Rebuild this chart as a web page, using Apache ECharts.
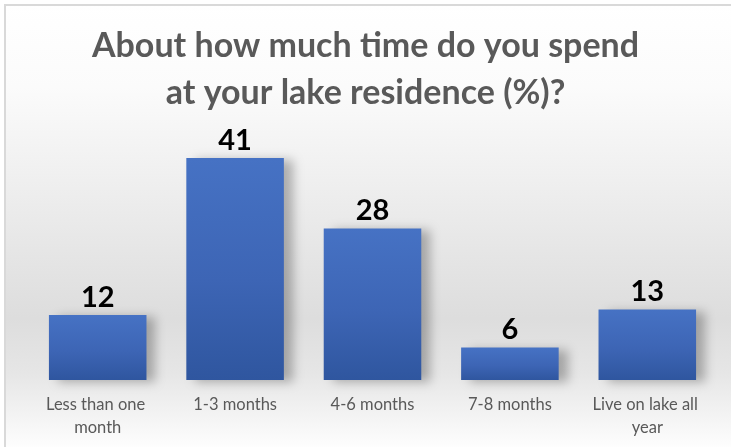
<!DOCTYPE html>
<html>
<head>
<meta charset="utf-8">
<script src="https://cdn.jsdelivr.net/npm/echarts@6/dist/echarts.min.js"></script>
<style>
html,body{margin:0;padding:0;background:#fff;}
#main{width:731px;height:447px;}
</style>
</head>
<body>
<div id="main"></div>
<script>
const titleText = 'About how much time do you spend\nat your lake residence (%)?';
const categories = ['Less than one month', '1-3 months', '4-6 months', '7-8 months', 'Live on lake all year'];
const values = [12, 41, 28, 6, 13];

const chart = echarts.init(document.getElementById('main'), null, {renderer: 'canvas'});
const option = {
  animation: false,
  graphic: [
    {
      type: 'rect', z: -10, silent: true,
      shape: {x: 5, y: 5, width: 740, height: 460},
      style: {
        fill: new echarts.graphic.LinearGradient(0, 0, 0, 1, [
          {offset: 0, color: '#ffffff'},
          {offset: 0.18, color: '#fbfbfb'},
          {offset: 0.45, color: '#ebebeb'},
          {offset: 0.68, color: '#dddddd'},
          {offset: 0.8, color: '#e6e6e6'},
          {offset: 0.97, color: '#ffffff'}
        ]),
        stroke: '#d9d9d9', lineWidth: 2
      }
    }
  ],
  title: {
    text: titleText,
    left: 'center',
    top: 18,
    textStyle: {
      fontFamily: 'Lato', fontWeight: 'bold', fontSize: 34,
      color: '#595959', lineHeight: 47
    }
  },
  grid: {left: 29, right: 15, top: 158, bottom: 67, containLabel: false},
  xAxis: {
    type: 'category',
    data: categories,
    axisLine: {show: false},
    axisTick: {show: false},
    axisLabel: {
      interval: 0,
      margin: 13,
      width: 126,
      overflow: 'break',
      fontFamily: 'Lato',
      fontSize: 16.5,
      lineHeight: 23,
      color: '#595959'
    }
  },
  yAxis: {
    type: 'value', min: 0, max: 41, show: false,
    splitLine: {show: false}
  },
  series: [{
    type: 'bar',
    data: values,
    barCategoryGap: '29%',
    itemStyle: {
      color: new echarts.graphic.LinearGradient(0, 0, 0, 1, [
        {offset: 0, color: '#4672c4'},
        {offset: 0.55, color: '#3d65b5'},
        {offset: 1, color: '#2f569f'}
      ]),
      shadowColor: 'rgba(0,0,0,0.28)',
      shadowBlur: 10,
      shadowOffsetX: 9,
      shadowOffsetY: 2
    },
    label: {
      show: true,
      position: 'top',
      distance: 3,
      fontFamily: 'Lato',
      fontWeight: 'bold',
      fontSize: 29,
      color: '#000000'
    }
  }]
};
chart.setOption(option);
</script>
</body>
</html>
